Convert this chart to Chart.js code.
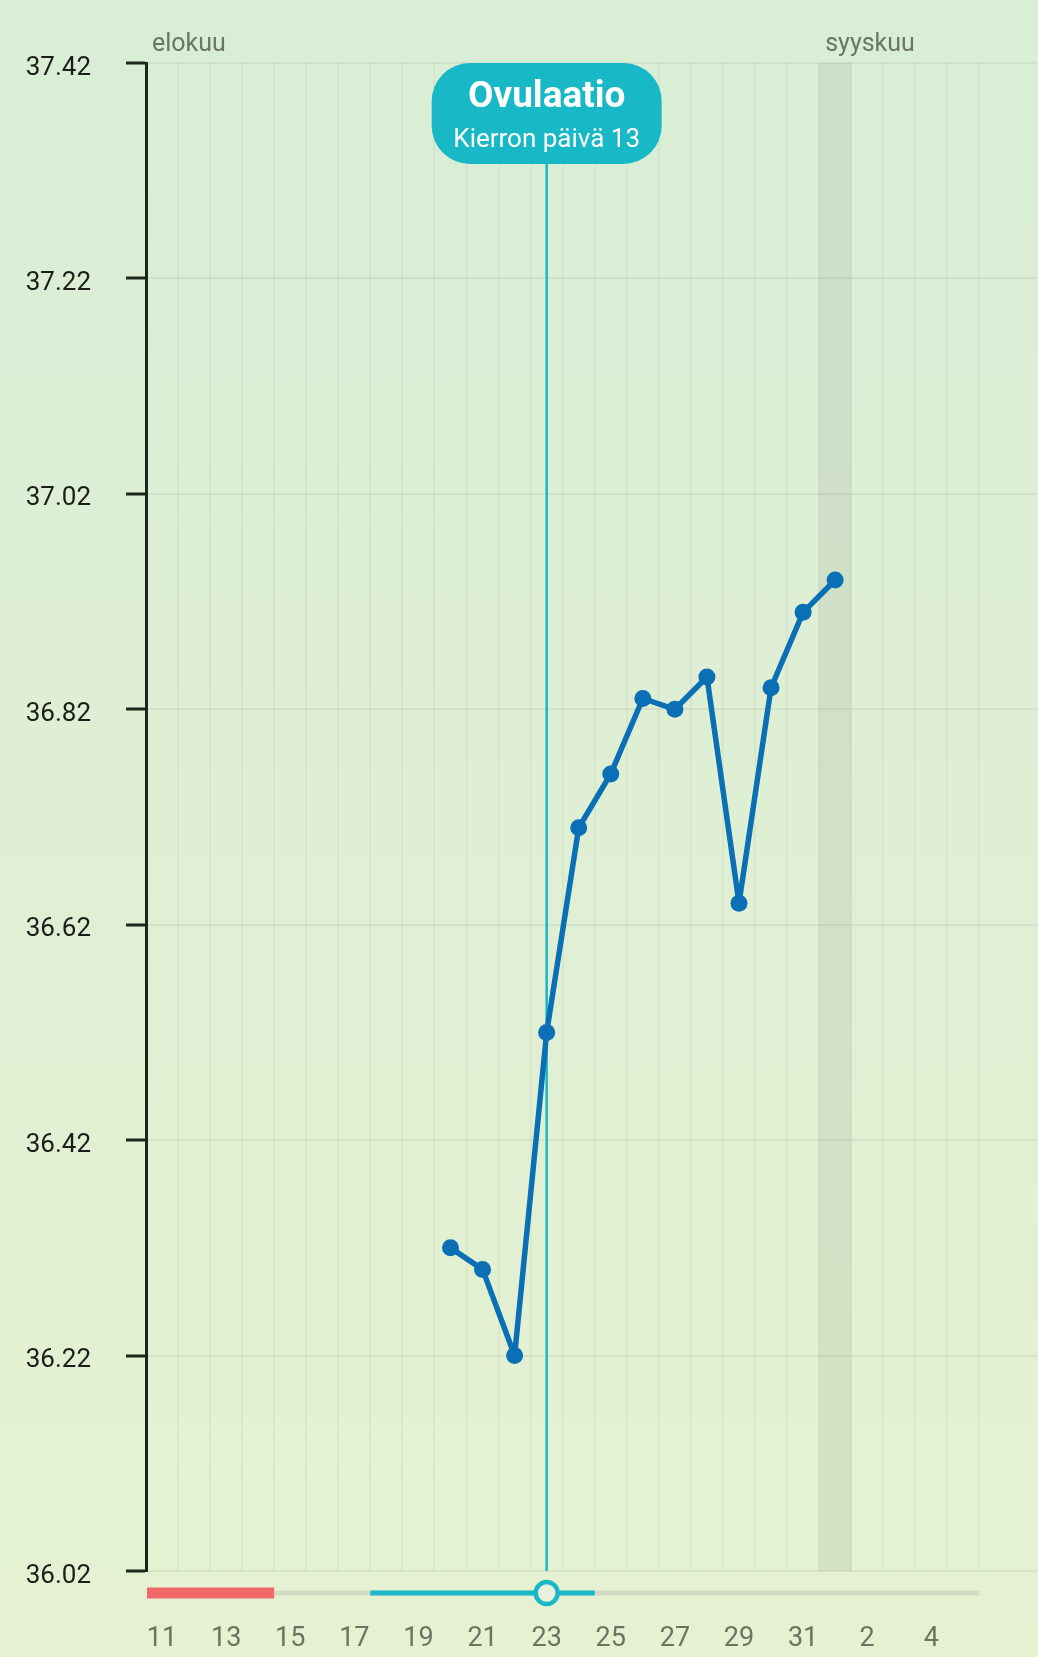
<!DOCTYPE html>
<html>
<head>
<meta charset="utf-8">
<script src="https://cdn.jsdelivr.net/npm/chart.js@4.4.1/dist/chart.umd.min.js"></script>
<style>
  html, body { margin: 0; padding: 0; overflow: hidden; }
  body {
    width: 1038px;
    height: 1657px;
    background: linear-gradient(180deg, #d9eed6 0%, #dfefd4 50%, #e5f1d1 100%);
  }
  #wrap { position: absolute; left: 0; top: 0; width: 1052px; height: 1657px; }
</style>
</head>
<body>
<div id="wrap"><canvas id="bbt" width="1052" height="1657"></canvas></div>
<script>
// Aug 11 – Sep 7, one column per day
const DAY_LABELS = [
  '11', '12', '13', '14', '15', '16', '17', '18', '19', '20', '21',
  '22', '23', '24', '25', '26', '27', '28', '29', '30', '31',
  '1', '2', '3', '4', '5', '6', '7',
];
const MONTH_NAMES = ['elokuu', 'syyskuu'];
const MONTH_START = [0, 21];

// basal body temperature, °C
const TEMPS = [
  null, null, null, null, null, null, null, null, null,
  36.32, 36.30, 36.22, 36.52, 36.71, 36.76, 36.83, 36.82, 36.85, 36.64, 36.84, 36.91, 36.94,
  null, null, null, null, null, null,
];
const Y_TICKS = [36.02, 36.22, 36.42, 36.62, 36.82, 37.02, 37.22, 37.42];

// cycle phases (day indexes)
const PERIOD_DAYS   = [0, 3];
const FERTILE_DAYS  = [7, 13];
const OVULATION_DAY = 12;
const TRACK_END     = 25;
const TODAY         = 21;
const OVU_TITLE     = 'Ovulaatio';
const OVU_SUB       = 'Kierron päivä 13';

const BLUE  = '#0a6fb4';
const TEAL  = '#18b8c6';
const RED   = '#f26868';
const TRACK = '#d2dcc5';
const AXIS  = '#1d261b';
const FONT  = 'Roboto';

const MONTH_LABELS = DAY_LABELS.map((_, i) => {
  const k = MONTH_START.indexOf(i);
  return k >= 0 ? MONTH_NAMES[k] : '';
});
const todayBand = DAY_LABELS.map((_, i) => (i === TODAY ? [Y_TICKS[0], Y_TICKS[Y_TICKS.length - 1]] : null));

// no label padding on the sides, the plot runs under the window edge
const noPad = (s) => { s.paddingLeft = 0; s.paddingRight = 0; s.paddingTop = 0; s.paddingBottom = 0; };

const cycleMarkers = {
  id: 'cycleMarkers',
  beforeDatasetsDraw(chart) {
    const { ctx, chartArea, scales: { x } } = chart;
    const ox = x.getPixelForValue(OVULATION_DAY);
    ctx.save();
    ctx.strokeStyle = TEAL;
    ctx.lineWidth = 2.5;
    ctx.beginPath();
    ctx.moveTo(ox, chartArea.top + 100);
    ctx.lineTo(ox, chartArea.bottom);
    ctx.stroke();
    ctx.restore();
  },
  afterDraw(chart) {
    const { ctx, chartArea, scales: { x } } = chart;
    const half = (x.getPixelForValue(1) - x.getPixelForValue(0)) / 2;
    const L = (i) => x.getPixelForValue(i) - half;
    const R = (i) => x.getPixelForValue(i) + half;
    const sy = chartArea.bottom + 22;
    ctx.save();

    // phase strip under the axis
    ctx.fillStyle = TRACK;
    ctx.fillRect(R(PERIOD_DAYS[1]), sy - 2.5, R(TRACK_END) - R(PERIOD_DAYS[1]), 5);
    ctx.fillStyle = RED;
    ctx.fillRect(L(PERIOD_DAYS[0]) + 1, sy - 5.5, R(PERIOD_DAYS[1]) - L(PERIOD_DAYS[0]) - 1, 11);
    ctx.fillStyle = TEAL;
    ctx.fillRect(L(FERTILE_DAYS[0]), sy - 2.5, R(FERTILE_DAYS[1]) - L(FERTILE_DAYS[0]), 5);

    const ox = x.getPixelForValue(OVULATION_DAY);
    ctx.beginPath();
    ctx.arc(ox, sy, 11, 0, Math.PI * 2);
    ctx.fillStyle = '#e8f2dc';
    ctx.fill();
    ctx.lineWidth = 4.5;
    ctx.strokeStyle = TEAL;
    ctx.stroke();

    // ovulation label
    const top = chartArea.top;
    ctx.beginPath();
    ctx.roundRect(ox - 115, top, 230, 101, 38);
    ctx.fillStyle = TEAL;
    ctx.fill();
    ctx.fillStyle = '#ffffff';
    ctx.textAlign = 'center';
    ctx.textBaseline = 'alphabetic';
    ctx.font = `bold 37px ${FONT}`;
    ctx.fillText(OVU_TITLE, ox, top + 44);
    ctx.font = `26px ${FONT}`;
    ctx.fillText(OVU_SUB, ox, top + 84);
    ctx.restore();
  },
};

new Chart(document.getElementById('bbt').getContext('2d'), {
  data: {
    labels: DAY_LABELS,
    datasets: [
      {
        type: 'line',
        data: TEMPS,
        borderColor: BLUE,
        backgroundColor: BLUE,
        borderWidth: 5.5,
        borderJoinStyle: 'round',
        borderCapStyle: 'round',
        pointRadius: 8.5,
        pointBorderWidth: 0,
        pointBackgroundColor: BLUE,
        tension: 0,
        order: 0,
      },
      {
        type: 'bar',
        data: todayBand,
        backgroundColor: 'rgba(0,0,0,0.06)',
        barPercentage: 1,
        categoryPercentage: 1,
        order: 1,
      },
    ],
  },
  plugins: [cycleMarkers],
  options: {
    responsive: false,
    animation: false,
    layout: { padding: 0 },
    plugins: { legend: { display: false }, tooltip: { enabled: false } },
    scales: {
      x: {
        type: 'category',
        position: 'bottom',
        offset: true,
        grid: {
          offset: true,
          drawTicks: false,
          lineWidth: 2,
          color: (c) => (c.index >= 1 && c.index <= TRACK_END + 1 ? 'rgba(0,0,0,0.035)' : 'transparent'),
        },
        border: { display: false },
        ticks: {
          autoSkip: false,
          maxRotation: 0,
          minRotation: 0,
          padding: 52,
          color: '#6c7363',
          font: { family: FONT, size: 27 },
          callback: (v, i) => (i % 2 === 0 && i <= 24 ? DAY_LABELS[i] : ''),
        },
        afterFit: (s) => { s.height = 86; noPad(s); },
      },
      xTop: {
        type: 'category',
        position: 'top',
        offset: true,
        grid: { display: false, drawTicks: false },
        border: { display: false },
        ticks: {
          autoSkip: false,
          maxRotation: 0,
          minRotation: 0,
          align: 'start',
          labelOffset: -10,
          padding: 3,
          color: '#6a7566',
          font: { family: FONT, size: 25 },
          callback: (v, i) => MONTH_LABELS[i],
        },
        afterFit: (s) => { s.height = 63; noPad(s); },
      },
      y: {
        type: 'linear',
        position: 'left',
        min: Y_TICKS[0],
        max: Y_TICKS[Y_TICKS.length - 1],
        afterBuildTicks: (s) => { s.ticks = Y_TICKS.map((v) => ({ value: v })); },
        grid: {
          color: 'rgba(0,0,0,0.055)',
          lineWidth: 2,
          tickColor: AXIS,
          tickLength: 20,
          tickWidth: 3,
        },
        border: { display: true, color: AXIS, width: 3 },
        ticks: {
          padding: 35,
          labelOffset: 5,
          color: '#1b1d1a',
          font: { family: FONT, size: 26 },
          callback: (v) => Number(v).toFixed(2),
        },
        afterFit: (s) => { s.width = 146; noPad(s); },
      },
    },
  },
});
</script>
</body>
</html>
